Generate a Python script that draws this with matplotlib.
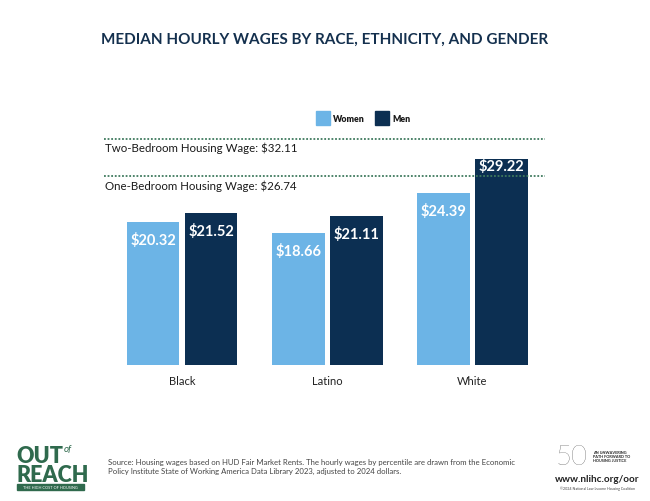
import matplotlib
matplotlib.use('Agg')
import matplotlib.pyplot as plt
from matplotlib.patches import Rectangle
import numpy as np

# data
groups = ['Black', 'Latino', 'White']
women = [20.32, 18.66, 24.39]
men = [21.52, 21.11, 29.22]
two_bed_wage = 32.11
one_bed_wage = 26.74

W, H = 650, 502
C_WOMEN = '#6cb4e6'
C_MEN = '#0c2f52'
C_TITLE = '#14304e'
C_DOTS = '#3f7a5e'
C_GREEN = '#2f6a4d'
FONT = 'Lato'

fig = plt.figure(figsize=(W / 100, H / 100), dpi=100)

def px_axes(x0, y0, x1, y1):
    # axes from pixel box (top-left origin)
    return fig.add_axes([x0 / W, 1 - y1 / H, (x1 - x0) / W, (y1 - y0) / H])

ax = px_axes(104, 130, 545, 366)
ax.set_xlim(-0.54, 2.50)
ax.set_ylim(0, 236 / 7.05)
ax.axis('off')

x = np.arange(len(groups))
bw = 0.36
off = 0.2
ax.bar(x - off, women, bw, color=C_WOMEN, zorder=2)
ax.bar(x + off, men, bw, color=C_MEN, zorder=2)

lab_font = dict(family=FONT, fontweight='bold', fontsize=10.5, color='white',
                ha='center', va='center', zorder=4, textcoords='offset points')
for xi, v in zip(x, women):
    ax.annotate(f'${v:.2f}', (xi - off, v), xytext=(0, -12.5), **lab_font)
for xi, v in zip(x, men):
    # the tallest label sits higher so it clears the dotted line
    dy = -5 if v > one_bed_wage else -12.5
    ax.annotate(f'${v:.2f}', (xi + off, v), xytext=(0, dy), **lab_font)

# housing wage reference lines
for val, name in [(two_bed_wage, 'Two-Bedroom'), (one_bed_wage, 'One-Bedroom')]:
    ax.axhline(val, color=C_DOTS, linestyle=(0, (1, 1)), linewidth=1.3, zorder=3)
    ax.annotate(f'{name} Housing Wage: ${val:.2f}', (-0.535, val), xytext=(0, -6.5),
                textcoords='offset points', ha='left', va='center',
                fontsize=8.3, color='#1a1a1a', family=FONT)

# category labels
for xi, g in zip(x, groups):
    ax.annotate(g, (xi, 0), xytext=(0, -11), textcoords='offset points',
                ha='center', va='center', fontsize=8, color='#222222', family=FONT)

# legend
for x0, name, col in [(316, 'Women', C_WOMEN), (375, 'Men', C_MEN)]:
    fig.patches.append(Rectangle((x0 / W, 1 - 126 / H), 14 / W, 14 / H,
                                 transform=fig.transFigure, color=col))
    fig.text((x0 + 17) / W, 1 - 119 / H, name, ha='left', va='center', fontsize=6.3,
             fontweight='heavy', color='#1a1a1a', family=FONT)

# title
fig.text(325 / W, 1 - 40 / H, 'MEDIAN HOURLY WAGES BY RACE, ETHNICITY, AND GENDER',
         ha='center', va='center', fontsize=11, fontweight='bold', color=C_TITLE, family=FONT)

# footer source
fig.text(108 / W, 1 - 467 / H,
         'Source: Housing wages based on HUD Fair Market Rents. The hourly wages by percentile are drawn from the Economic\n'
         'Policy Institute State of Working America Data Library 2023, adjusted to 2024 dollars.',
         ha='left', va='center', fontsize=5.6, color='#444444', linespacing=1.3, family=FONT)

# OUT of REACH logo
fig.text(16 / W, 1 - 457 / H, 'OUT', ha='left', va='center', fontsize=15.5, fontweight='heavy',
         color=C_GREEN, family=FONT)
fig.text(64 / W, 1 - 450 / H, 'of', ha='left', va='center', fontsize=7, style='italic',
         color=C_GREEN, family=FONT)
fig.text(16 / W, 1 - 476 / H, 'REACH', ha='left', va='center', fontsize=15.5, fontweight='heavy',
         color=C_GREEN, family=FONT)
fig.patches.append(Rectangle((17 / W, 1 - 491 / H), 67 / W, 6 / H,
                             transform=fig.transFigure, color=C_GREEN))
fig.text(50 / W, 1 - 488 / H, 'THE HIGH COST OF HOUSING', ha='center', va='center',
         fontsize=2.8, color='white', family=FONT)

# NLIHC logo
fig.text(556 / W, 1 - 458 / H, '50', ha='left', va='center', fontsize=20, fontweight='light',
         color='#444444', family=FONT)
fig.text(593 / W, 1 - 457 / H, 'AN UNWAVERING\nPATH FORWARD TO\nHOUSING JUSTICE', ha='left',
         va='center', fontsize=2.8, fontweight='bold', color='#222222', linespacing=1.1, family=FONT)
fig.text(597 / W, 1 - 480 / H, 'www.nlihc.org/oor', ha='center', va='center', fontsize=7.2,
         fontweight='bold', color='#222222', family=FONT)
fig.text(597 / W, 1 - 489 / H, '\u00a92024 National Low Income Housing Coalition', ha='center',
         va='center', fontsize=2.6, color='#444444', family=FONT)

fig.savefig('out.png', dpi=100)
